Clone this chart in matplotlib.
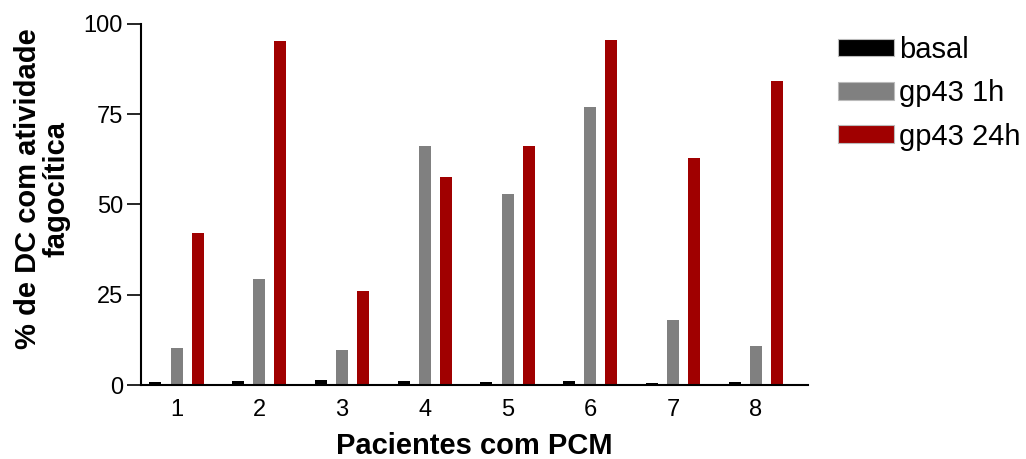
import matplotlib
matplotlib.use("Agg")
import matplotlib.pyplot as plt
import numpy as np
from matplotlib.patches import Patch

plt.rcParams['font.family'] = ['Liberation Sans', 'DejaVu Sans']

patients = ['1', '2', '3', '4', '5', '6', '7', '8']
basal = [0.9, 1.0, 1.3, 1.0, 0.8, 1.0, 0.7, 0.9]
gp43_1h = [10.3, 29.4, 9.7, 66.1, 52.8, 77.0, 18.0, 10.8]
gp43_24h = [42.2, 95.3, 26.1, 57.5, 66.1, 95.6, 63.0, 84.2]
series_names = ['basal', 'gp43 1h', 'gp43 24h']
colors = ['#000000', '#808080', '#a00000']

fig = plt.figure(figsize=(10.26, 4.59), dpi=100)
ax = fig.add_axes([0.1374, 0.161, 0.650, 0.787])

x = np.arange(1, len(patients) + 1)
w = 0.145
off = 0.255
for i, (vals, c) in enumerate(zip([basal, gp43_1h, gp43_24h], colors)):
    ax.bar(x + (i - 1) * off, vals, width=w, color=c, edgecolor='none')

ax.set_xlim(0.57, 8.63)
ax.set_ylim(0, 100)
ax.set_yticks([0, 25, 50, 75, 100])
ax.set_xticks(x)
ax.set_xticklabels(patients)
ax.tick_params(axis='y', direction='out', length=10, width=1.2, labelsize=17, pad=3)
ax.tick_params(axis='x', length=0, labelsize=17, pad=10)
for s in ['top', 'right']:
    ax.spines[s].set_visible(False)
for s in ['left', 'bottom']:
    ax.spines[s].set_linewidth(1.5)

ax.set_xlabel('Pacientes com PCM', fontsize=21, fontweight='bold', labelpad=8)
ax.set_ylabel('% de DC com atividade\nfagocítica', fontsize=21, fontweight='bold', linespacing=1.0)
ax.yaxis.set_label_coords(-0.106, 0.543)

handles = [Patch(facecolor=c, edgecolor='#bbbbbb', linewidth=0.8) for c in colors]
fig.legend(handles, series_names, loc='upper left', bbox_to_anchor=(0.817, 0.922),
           frameon=False, fontsize=21, handlelength=1.9, handleheight=0.57,
           handletextpad=0.2, labelspacing=0.53, borderaxespad=0, borderpad=0)

fig.savefig('out.png', dpi=100)
